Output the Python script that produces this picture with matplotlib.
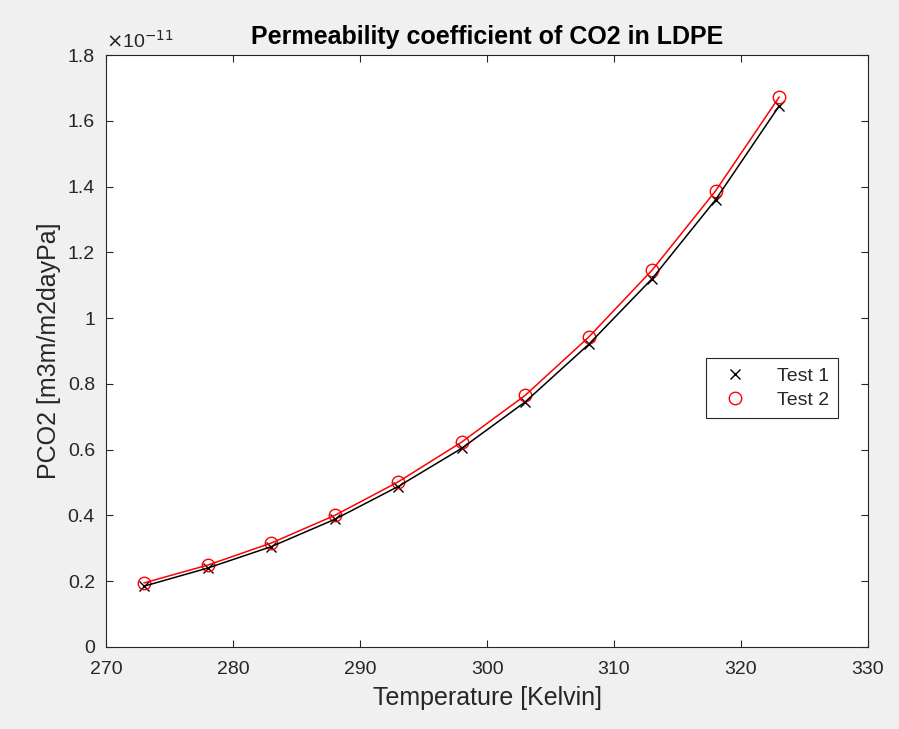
import numpy as np
import matplotlib.pyplot as plt
from matplotlib.ticker import FuncFormatter

plt.rcParams['font.family'] = ['Liberation Sans', 'DejaVu Sans']

# data (values in units of 1e-11)
temperatura = [273, 278, 283, 288, 293, 298, 303, 308, 313, 318, 323]
teste1 = [0.185, 0.240, 0.305, 0.388, 0.488, 0.604, 0.745, 0.920, 1.120, 1.360, 1.645]
teste2 = [0.195, 0.249, 0.316, 0.400, 0.502, 0.623, 0.765, 0.942, 1.146, 1.387, 1.672]
escala = 1e-11

y1 = np.array(teste1) * escala
y2 = np.array(teste2) * escala

cinza = '#262626'

fig = plt.figure(figsize=(8.99, 7.29), dpi=100, facecolor='#f0f0f0')
ax = fig.add_axes([0.118, 0.1125, 0.8475, 0.812])
ax.set_facecolor('white')

# marcadores (legenda) e depois as linhas
ax.plot(temperatura, y1, 'x', color='black', markersize=7, markeredgewidth=1.0, label='Test 1')
ax.plot(temperatura, y2, 'o', color='red', markerfacecolor='none', markersize=9,
        markeredgewidth=1.0, label='Test 2')
ax.plot(temperatura, y1, '-', color='black', linewidth=1.1)
ax.plot(temperatura, y2, '-', color='red', linewidth=1.1)

ax.set_xlim(270, 330)
ax.set_ylim(0, 1.8e-11)
ax.set_xticks(np.arange(270, 331, 10))
ax.set_yticks(np.arange(0, 1.81, 0.2) * escala)
ax.yaxis.set_major_formatter(FuncFormatter(lambda v, p: '%g' % round(v / escala, 2)))

ax.tick_params(direction='in', top=True, right=True, length=5, width=0.8,
               colors=cinza, labelsize=14)
ax.tick_params(axis='x', pad=10)
ax.tick_params(axis='y', pad=8)
for s in ax.spines.values():
    s.set_color(cinza)
    s.set_linewidth(0.8)

ax.text(0, 1.006, r'$\times$10$^{\mathrm{-11}}$', transform=ax.transAxes, fontsize=14,
        color=cinza, ha='left', va='bottom')

ax.set_title('Permeability coefficient of CO2 in LDPE', fontsize=18, fontweight='bold',
             color='black', pad=8)
ax.set_xlabel('Temperature [Kelvin]', fontsize=18, color=cinza, labelpad=6)
ax.set_ylabel('PCO2 [m3m/m2dayPa]', fontsize=18, color=cinza, labelpad=5)

leg = ax.legend(loc='center right', bbox_to_anchor=(0.961, 0.4375), fontsize=14,
                frameon=True, fancybox=False, edgecolor=cinza, framealpha=1,
                handlelength=2.0, handletextpad=1.2, borderpad=0.45, labelspacing=0.35,
                borderaxespad=0)
leg.get_frame().set_linewidth(0.8)
for t in leg.get_texts():
    t.set_color(cinza)

plt.savefig('out.png', dpi=100, facecolor=fig.get_facecolor())
